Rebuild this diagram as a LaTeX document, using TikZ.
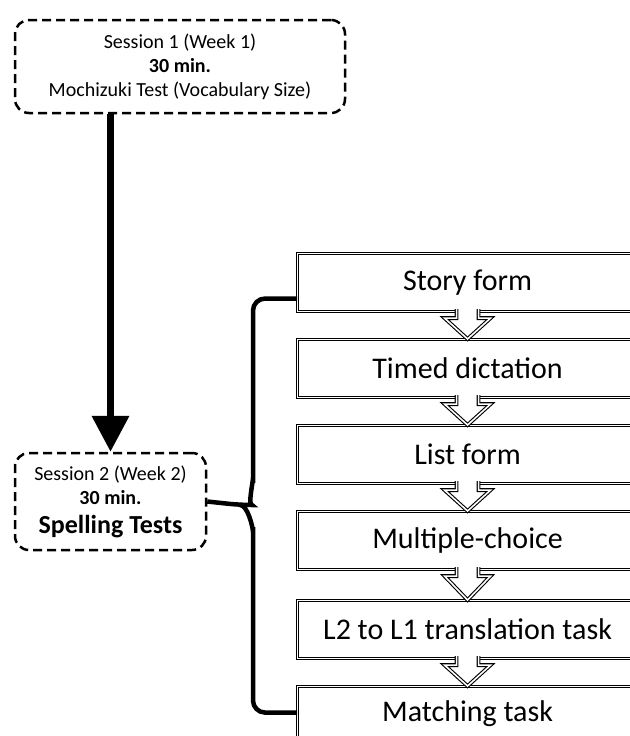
\documentclass[tikz,border=0pt]{standalone}
\usepackage{fontspec}
\setmainfont{Carlito}
\usetikzlibrary{arrows.meta}

\tikzset{
  session/.style={draw, dash pattern=on 9pt off 5pt, line width=2.5pt, rounded corners=14pt, align=center, inner sep=0pt, font=\fontsize{20}{24}\selectfont},
  task/.style={draw, double, double distance=1.6pt, line width=1.1pt, anchor=north west, minimum width=340pt, minimum height=58pt, inner sep=0pt, font=\fontsize{30}{36}\selectfont},
  hollow/.style={draw, double, double distance=1.6pt, line width=1.1pt, fill=white, line join=miter},
  bigarrow/.style={line width=7pt, -{Triangle[length=36pt,width=36pt]}},
  brace/.style={line width=4.5pt, rounded corners=12pt}
}

\begin{document}
\begin{tikzpicture}[x=1pt, y=-1pt]
    \useasboundingbox (0,0) rectangle (629,736);

    \node[session, minimum width=330pt, minimum height=93pt] (s1) at (180,66.5) {
        Session 1 (Week 1)\\ \textbf{30 min.}\\ Mochizuki Test (Vocabulary Size)
    };
    \node[session, minimum width=191pt, minimum height=97pt] (s2) at (110.5,501.5) {
        Session 2 (Week 2)\\ \textbf{30 min.}\\[5pt] {\fontsize{26}{30}\selectfont\textbf{Spelling Tests}}
    };
    \draw[bigarrow] (s1.south -| s2.north) -- (s2.north);

    \foreach \i/\top/\txt in {1/253/Story form, 2/339/Timed dictation, 3/425/List form,
                              4/511/Multiple-choice, 5/600/L2 to L1 translation task}
        \node[task] (t\i) at (297,\top) {\txt};
    \node[task, minimum height=54pt] (t6) at (297,686) {Matching task};

    \foreach \i [evaluate=\i as \j using int(\i+1)] in {1,...,5} {
        \draw[hollow] ([xshift=-11pt,yshift=3pt]t\i.south) -- ([xshift=-11pt,yshift=-6pt]t\i.south)
            -- ([xshift=-23pt,yshift=-6pt]t\i.south) -- (t\j.north)
            -- ([xshift=23pt,yshift=-6pt]t\i.south) -- ([xshift=11pt,yshift=-6pt]t\i.south)
            -- ([xshift=11pt,yshift=3pt]t\i.south);
    }

    \draw[brace] ([yshift=-16pt]t1.west) -| (253,490) to[out=90,in=0] (240,505) -- (s2.east);
    \draw[brace] ([yshift=1pt]t6.west) -| (253,520) to[out=-90,in=0] (240,505);
\end{tikzpicture}
\end{document}
